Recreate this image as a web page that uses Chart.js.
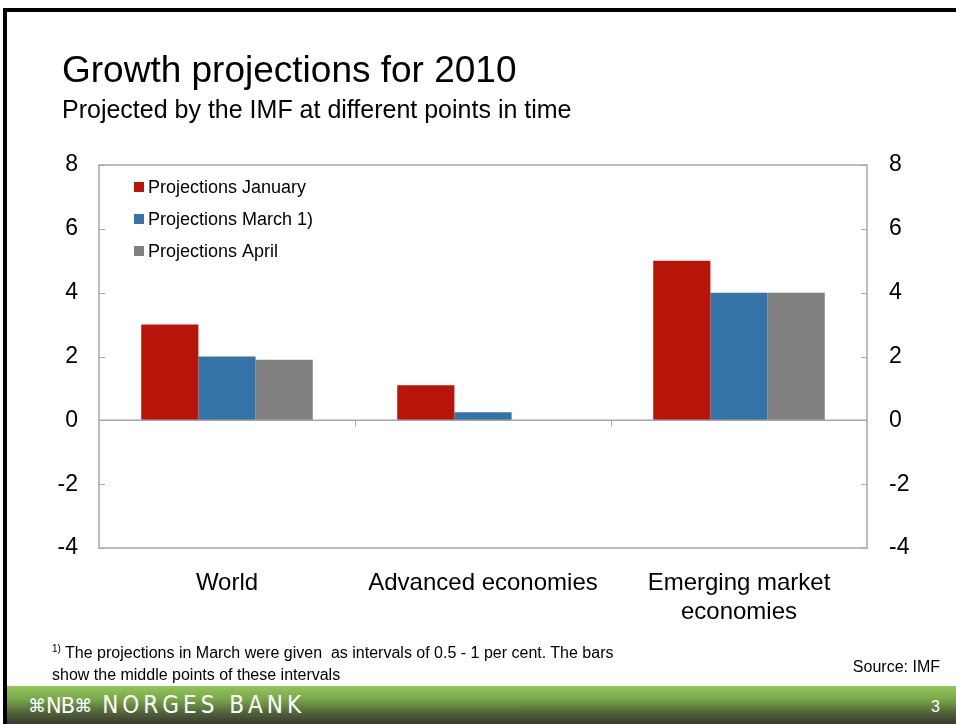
<!DOCTYPE html>
<html>
<head>
<meta charset="utf-8">
<script src="https://cdn.jsdelivr.net/npm/chart.js@4"></script>
<style>
  html, body { margin:0; padding:0; background:#fff; }
  body { width:956px; height:724px; position:relative; overflow:hidden; font-family:"Liberation Sans", Arial, sans-serif; }
  #c { position:absolute; left:0; top:0; }
  .abs { position:absolute; white-space:nowrap; color:#000; }
  #borderTop { position:absolute; left:3px; top:8px; width:953px; height:4px; background:#000; }
  #borderLeft { position:absolute; left:3px; top:8px; width:4px; height:716px; background:#000; }
  #title { left:62px; top:49px; font-size:37px; }
  #subtitle { left:62px; top:95px; font-size:25px; }
  #note { left:52px; top:642px; font-family:"Liberation Sans Narrow", "Arial Narrow", sans-serif; font-size:16px; line-height:22px; }
  #note sup { font-size:10px; vertical-align:6px; line-height:0; }
  #source { right:16px; top:658px; font-family:"Liberation Sans Narrow", "Arial Narrow", sans-serif; font-size:16px; }
  #footer { position:absolute; left:7px; top:686px; width:949px; height:38px;
            background:linear-gradient(to bottom, #93c65b 0%, #7aa64a 35%, #52633a 70%, #383a30 100%); }
  #logo { position:absolute; left:21px; top:5px; color:#fff; font-family:"DejaVu Sans", sans-serif; font-size:23px; }
  #logo .sym { font-size:18px; vertical-align:1px; }
  #logo .nb { font-size:21px; letter-spacing:-1px; }
  #logo .name { letter-spacing:4px; margin-left:10px; font-family:"DejaVu Sans Condensed", "DejaVu Sans", sans-serif; font-size:24px; }
  #page { position:absolute; right:16px; top:12px; color:#fff; font-size:16px; }
</style>
</head>
<body>
<canvas id="c" width="956" height="724"></canvas>
<div id="borderTop"></div>
<div id="borderLeft"></div>
<div class="abs" id="title">Growth projections for 2010</div>
<div class="abs" id="subtitle">Projected by the IMF at different points in time</div>
<div class="abs" id="note"><sup>1)</sup> The projections in March were given&nbsp; as intervals of 0.5 - 1 per cent. The bars<br>show the middle points of these intervals</div>
<div class="abs" id="source">Source: IMF</div>
<div id="footer"><div id="logo"><span class="sym">⌘</span><span class="nb">NB</span><span class="sym">⌘</span><span class="name">NORGES BANK</span></div><div id="page">3</div></div>
<script>
const categories = ["World", "Advanced economies", ["Emerging market", "economies"]];
const seriesNames = ["Projections January", "Projections March 1)", "Projections April"];
const january = [3.0, 1.1, 5.0];
const march = [2.0, 0.25, 4.0];
const april = [1.9, null, 4.0];
const yTicks = [-4, -2, 0, 2, 4, 6, 8];
const colors = ["#b81409", "#3572a8", "#808080"];

const frameColor = "#a6a6a6";

const framePlugin = {
  id: "frame",
  afterDatasetsDraw(chart) {
    const ctx = chart.ctx;
    const a = chart.chartArea;
    const y = chart.scales.y;
    const x = chart.scales.x;
    ctx.save();
    ctx.strokeStyle = frameColor;
    ctx.lineWidth = 1.5;
    ctx.strokeRect(a.left, a.top, a.right - a.left, a.bottom - a.top);
    ctx.lineWidth = 1;
    yTicks.forEach(v => {
      const py = Math.round(y.getPixelForValue(v)) + 0.5;
      ctx.beginPath();
      ctx.moveTo(a.left, py); ctx.lineTo(a.left + 6, py);
      ctx.moveTo(a.right - 6, py); ctx.lineTo(a.right, py);
      ctx.stroke();
    });
    const z = y.getPixelForValue(0);
    ctx.lineWidth = 1.5;
    ctx.beginPath();
    ctx.moveTo(a.left, z); ctx.lineTo(a.right, z);
    ctx.stroke();
    ctx.lineWidth = 1;
    for (let i = 0; i < categories.length - 1; i++) {
      const px = Math.round((x.getPixelForValue(i) + x.getPixelForValue(i + 1)) / 2) + 0.5;
      ctx.beginPath();
      ctx.moveTo(px, z); ctx.lineTo(px, z + 6);
      ctx.stroke();
    }
    ctx.font = "18px 'Liberation Sans', Arial, sans-serif";
    ctx.textBaseline = "middle";
    chart.data.datasets.forEach((ds, i) => {
      const ly = a.top + 22 + i * 32;
      ctx.fillStyle = ds.backgroundColor;
      ctx.fillRect(a.left + 35, ly - 5, 10, 10);
      ctx.fillStyle = "#000";
      ctx.fillText(ds.label, a.left + 49, ly + 1);
    });
    ctx.restore();
  }
};

new Chart(document.getElementById("c"), {
  type: "bar",
  data: {
    labels: categories,
    datasets: [
      { label: seriesNames[0], data: january, backgroundColor: colors[0] },
      { label: seriesNames[1], data: march, backgroundColor: colors[1] },
      { label: seriesNames[2], data: april, backgroundColor: colors[2] }
    ]
  },
  options: {
    responsive: false,
    animation: false,
    devicePixelRatio: 1,
    layout: { padding: { left: 0, right: 0, top: 165, bottom: 0 } },
    datasets: { bar: { categoryPercentage: 0.67, barPercentage: 1.0 } },
    plugins: { legend: { display: false }, tooltip: { enabled: false } },
    scales: {
      x: {
        grid: { display: false, drawTicks: false },
        border: { display: false },
        ticks: { color: "#000", font: { size: 24, family: "'Liberation Sans', Arial, sans-serif", lineHeight: 1.2 }, padding: 21, maxRotation: 0, autoSkip: false },
        afterFit(s) { s.height = 176; }
      },
      y: {
        position: "left",
        min: -4, max: 8,
        grid: { display: false, drawTicks: false },
        border: { display: false },
        ticks: { stepSize: 2, color: "#000", font: { size: 23, family: "'Liberation Sans', Arial, sans-serif" }, padding: 21 },
        afterFit(s) { s.width = 99; }
      },
      y2: {
        position: "right",
        min: -4, max: 8,
        grid: { display: false, drawTicks: false },
        border: { display: false },
        ticks: { stepSize: 2, color: "#000", font: { size: 23, family: "'Liberation Sans', Arial, sans-serif" }, padding: 22 },
        afterFit(s) { s.width = 89; }
      }
    }
  },
  plugins: [framePlugin]
});
</script>
</body>
</html>
